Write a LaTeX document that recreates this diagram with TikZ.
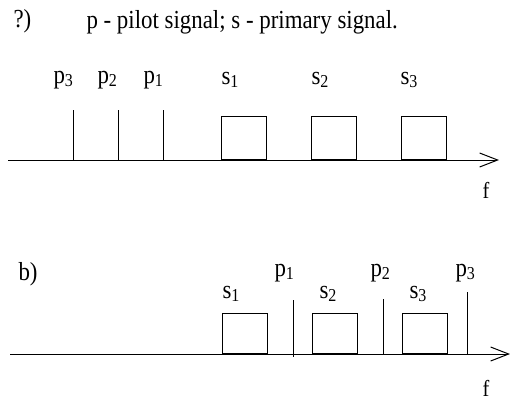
\documentclass[tikz,border=0pt]{standalone}
\usepackage{fontspec}
\setmainfont[FakeStretch=0.88]{Liberation Serif}
\usetikzlibrary{arrows.meta}
\begin{document}
\begin{tikzpicture}[x=1pt,y=-1pt,line width=1pt,
  lbl/.style={anchor=base west,inner sep=0pt,font=\fontsize{26}{30}\selectfont},
  flbl/.style={lbl,font=\fontsize{23}{26}\selectfont},
  sbox/.style={draw,line width=1pt,inner sep=0pt,minimum width=45pt,minimum height=43pt,anchor=south west},
  sboxb/.style={sbox,minimum height=40pt},
  axis/.style={-{Straight Barb[length=18pt,width=14pt,line width=1pt]}}]
\useasboundingbox (0,0) rectangle (510,400);
% title
\node[lbl] (qa) at (13,27) {?)};
\node[lbl] (title) at (86,28) {p - pilot signal; s - primary signal.};
% top axis
\coordinate (a0) at (8,160);
\coordinate (a1) at (499,160);
\draw[axis] (a0) -- (a1);
\node[flbl] (f1) at (482,198) {f};
\foreach \n/\x in {3/73,2/118,1/163}{
  \coordinate (tp\n) at (\x,110);
  \coordinate (bp\n) at (\x,160);
  \draw (tp\n) -- (bp\n);
}
\node[lbl] (lp3) at (53,83) {p\textsubscript{3}};
\node[lbl] (lp2) at (97,83) {p\textsubscript{2}};
\node[lbl] (lp1) at (143,83) {p\textsubscript{1}};
\node[sbox] (s1) at (221,160) {};
\node[sbox] (s2) at (311,160) {};
\node[sbox] (s3) at (401,160) {};
\node[lbl] (ls1) at (221,84) {s\textsubscript{1}};
\node[lbl] (ls2) at (311,84) {s\textsubscript{2}};
\node[lbl] (ls3) at (400,84) {s\textsubscript{3}};
% bottom axis
\node[lbl] (qb) at (18,280) {b)};
\coordinate (b0) at (10,354);
\coordinate (b1) at (510,354);
\draw[axis] (b0) -- (b1);
\node[flbl] (f2) at (482,396) {f};
\node[sboxb] (t1) at (222,354) {};
\node[sboxb] (t2) at (312,354) {};
\node[sboxb] (t3) at (402,354) {};
\coordinate (q1t) at (293,300); \coordinate (q1b) at (293,357);
\coordinate (q2t) at (383,299); \coordinate (q2b) at (383,354);
\coordinate (q3t) at (467,292); \coordinate (q3b) at (467,354);
\draw (q1t) -- (q1b);
\draw (q2t) -- (q2b);
\draw (q3t) -- (q3b);
\node[lbl] (m1) at (222,298) {s\textsubscript{1}};
\node[lbl] (m2) at (319,298) {s\textsubscript{2}};
\node[lbl] (m3) at (409,298) {s\textsubscript{3}};
\node[lbl] (n1) at (274,276) {p\textsubscript{1}};
\node[lbl] (n2) at (370,276) {p\textsubscript{2}};
\node[lbl] (n3) at (455,276) {p\textsubscript{3}};
\end{tikzpicture}
\end{document}
